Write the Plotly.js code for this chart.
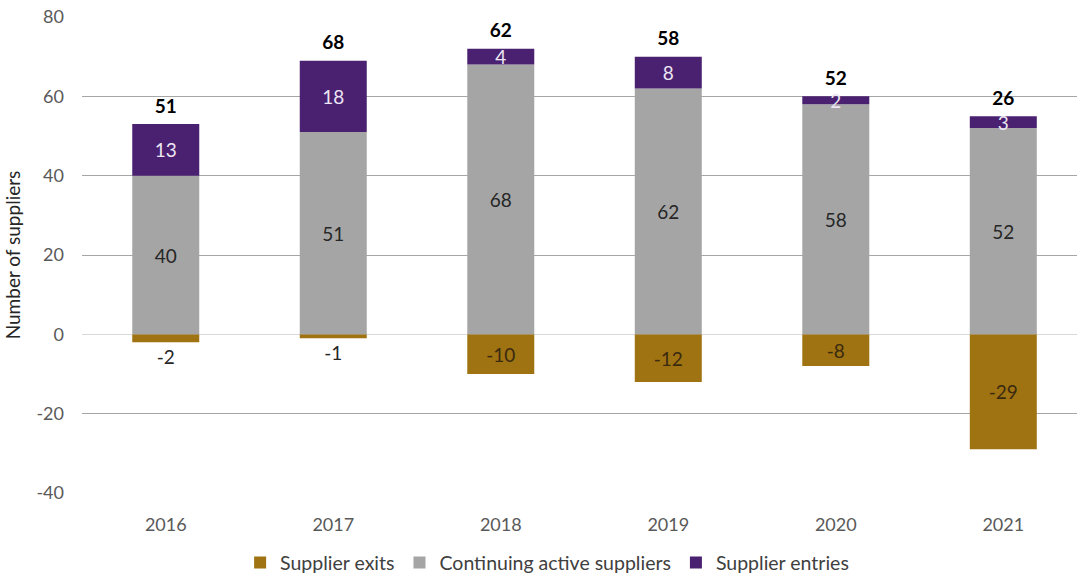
<!DOCTYPE html>
<html>
<head>
<meta charset="utf-8">
<script src="https://cdn.plot.ly/plotly-3.0.1.min.js"></script>
<style>
  html, body { margin: 0; padding: 0; background: #ffffff; overflow: hidden; }
  #chart { width: 1077px; height: 575px; }
</style>
</head>
<body>
<div id="chart"></div>
<script>
// Supplier movements per year
const years = ['2016', '2017', '2018', '2019', '2020', '2021'];
const supplierExits = [-2, -1, -10, -12, -8, -29];
const continuingSuppliers = [40, 51, 68, 62, 58, 52];
const supplierEntries = [13, 18, 4, 8, 2, 3];
const yTickValues = [-40, -20, 0, 20, 40, 60, 80];
const yTickLabels = ['-40', '-20', '0', '20', '40', '60', '80'];

const FONT = 'Lato, "Liberation Sans", sans-serif';

// Net change shown above each stack
const netTotals = years.map((_, i) => continuingSuppliers[i] + supplierEntries[i] + supplierExits[i]);
const stackTops = years.map((_, i) => continuingSuppliers[i] + supplierEntries[i]);

const exitsTextPos = supplierExits.map(v => (Math.abs(v) < 4 ? 'outside' : 'inside'));

const traces = [
  {
    type: 'bar', name: 'Supplier exits', x: years, y: supplierExits,
    marker: { color: '#9f7212' },
    text: supplierExits.map(String), textposition: exitsTextPos, textangle: 0,
    insidetextanchor: 'middle', constraintext: 'none', cliponaxis: false,
    insidetextfont: { family: FONT, size: 19, color: '#3a2a10' },
    outsidetextfont: { family: FONT, size: 19, color: '#262626' },
    hoverinfo: 'x+y'
  },
  {
    type: 'bar', name: 'Continuing active suppliers', x: years, y: continuingSuppliers,
    marker: { color: '#a5a5a5' },
    text: continuingSuppliers.map(String), textposition: 'inside', textangle: 0,
    insidetextanchor: 'middle', constraintext: 'none',
    insidetextfont: { family: FONT, size: 19, color: '#262626' },
    hoverinfo: 'x+y'
  },
  {
    type: 'bar', name: 'Supplier entries', x: years, y: supplierEntries,
    marker: { color: '#4a2170' },
    text: supplierEntries.map(String), textposition: 'inside', textangle: 0,
    insidetextanchor: 'middle', constraintext: 'none',
    insidetextfont: { family: FONT, size: 19, color: '#ece6f4' },
    hoverinfo: 'x+y'
  },
  {
    // bold net totals sitting above each stack (transparent marker spaces the text)
    type: 'scatter', mode: 'markers+text', x: years, y: stackTops,
    marker: { size: 9, color: 'rgba(0,0,0,0)' },
    text: netTotals.map(String), textposition: 'top center',
    textfont: { family: FONT, size: 19, color: '#000000', weight: 'bold' },
    showlegend: false, hoverinfo: 'skip', cliponaxis: false
  }
];

const layout = {
  width: 1077, height: 575,
  margin: { l: 82, r: 0, t: 17, b: 82 },
  paper_bgcolor: '#ffffff', plot_bgcolor: '#ffffff',
  barmode: 'relative', bargap: 0.6,
  font: { family: FONT, size: 18, color: '#595959' },
  xaxis: {
    type: 'category', range: [-0.5, 5.44], automargin: false,
    showgrid: false, showline: false, zeroline: false, ticks: '',
    ticklabelstandoff: 19,
    tickfont: { family: FONT, size: 18, color: '#595959' }
  },
  yaxis: {
    range: [-40, 80], tickmode: 'array', tickvals: yTickValues, ticktext: yTickLabels,
    automargin: false,
    showgrid: true, gridcolor: '#a6a6a6', gridwidth: 1,
    zeroline: true, zerolinecolor: '#d9d9d9', zerolinewidth: 1,
    showline: false, ticks: '', ticklabelstandoff: 17,
    tickfont: { family: FONT, size: 18, color: '#595959' },
    title: { text: 'Number of suppliers', standoff: 10,
             font: { family: FONT, size: 19, color: '#262626' } }
  },
  legend: {
    orientation: 'h', xref: 'container', yref: 'container',
    x: 0.508, xanchor: 'center', y: 0.021, yanchor: 'middle',
    traceorder: 'normal', itemclick: false,
    font: { family: FONT, size: 19.5, color: '#404040' }
  },
  showlegend: true
};

Plotly.newPlot('chart', traces, layout, { displayModeBar: false, staticPlot: true });
</script>
</body>
</html>
